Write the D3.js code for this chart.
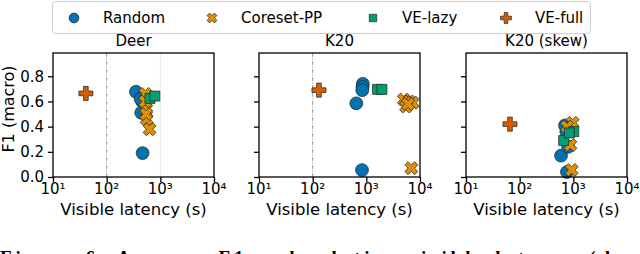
<!DOCTYPE html>
<html>
<head>
<meta charset="utf-8">
<script src="https://cdn.jsdelivr.net/npm/d3@7"></script>
<style>
  body { margin: 0; background: #fff; }
  svg { display: block; font-family: "DejaVu Sans", sans-serif; }
</style>
</head>
<body>
<svg id="chart" width="640" height="254"></svg>
<script>
// panels and methods
const panels = ["Deer", "K20", "K20 (skew)"];
const methods = ["Random", "Coreset-PP", "VE-lazy", "VE-full"];
const colors = ["#0173B2", "#DE8F05", "#029E73", "#D55E00"];
const yTicks = [0, 0.2, 0.4, 0.6, 0.8];
const xTicks = [1, 2, 3, 4]; // powers of ten

// [latency s, F1] per panel, per method
const deerRandom = [[351, 0.677], [460, 0.60], [440, 0.51], [467, 0.19], [430, 0.62]];
const deerCoreset = [[525, 0.66], [545, 0.54], [555, 0.46], [545, 0.50], [630, 0.38], [520, 0.60]];
const deerLazy = [[640, 0.624], [790, 0.643]];
const deerFull = [[41, 0.664]];

const k20Random = [[860, 0.74], [850, 0.715], [840, 0.69], [650, 0.585], [830, 0.055]];
const k20Coreset = [[5000, 0.615], [6300, 0.60], [7300, 0.59], [5500, 0.56], [6000, 0.58], [6900, 0.07]];
const k20Lazy = [[1620, 0.696], [1950, 0.696]];
const k20Full = [[131, 0.69]];

const skewRandom = [[590, 0.17], [760, 0.04], [740, 0.36], [800, 0.24], [700, 0.41]];
const skewCoreset = [[970, 0.43], [880, 0.254], [930, 0.056], [760, 0.40]];
const skewLazy = [[1020, 0.36], [660, 0.29], [840, 0.35]];
const skewFull = [[66, 0.42]];

const panelData = [
  [deerRandom, deerCoreset, deerLazy, deerFull],
  [k20Random, k20Coreset, k20Lazy, k20Full],
  [skewRandom, skewCoreset, skewLazy, skewFull]
];

const svg = d3.select("#chart");
const panelLeft = [53, 259, 466];
const panelW = 161;
const topY = 53, bottomY = 177;

const supers = {"1": "\u00B9", "2": "\u00B2", "3": "\u00B3", "4": "\u2074"};

// marker shapes
const circle = d3.symbol().type(d3.symbolCircle).size(130)();
const xMark = d3.symbol().type(d3.symbolCross).size(105)();
const square = d3.symbol().type(d3.symbolSquare).size(100)();
const plus = d3.symbol().type(d3.symbolCross).size(110)();

function markerPath(m) {
  return [circle, xMark, square, plus][m];
}

panels.forEach(function(name, p) {
  const x0 = panelLeft[p];
  const xScale = d3.scaleLog().domain([10, 10000]).range([x0, x0 + panelW]);
  const yScale = d3.scaleLinear().domain([0, 0.985]).range([bottomY, topY]);
  const g = svg.append("g").attr("class", "panel" + p);

  // reference lines
  if (p < 2) {
    g.append("line")
      .attr("x1", xScale(100)).attr("x2", xScale(100))
      .attr("y1", topY).attr("y2", bottomY)
      .attr("stroke", "#999").attr("stroke-width", 1)
      .attr("stroke-dasharray", "4,1.5,1,1.5");
  }
  if (p == 0) {
    g.append("line")
      .attr("x1", xScale(1000)).attr("x2", xScale(1000))
      .attr("y1", topY).attr("y2", bottomY)
      .attr("stroke", "#e6e6e6").attr("stroke-width", 1);
  }

  // points
  panelData[p].forEach(function(series, m) {
    g.selectAll(".m" + m).data(series).enter()
      .append("path")
      .attr("class", "m" + m)
      .attr("d", markerPath(m))
      .attr("transform", function(d) {
        let t = "translate(" + xScale(d[0]) + "," + yScale(d[1]) + ")";
        if (m == 1) t += " rotate(45)";
        return t;
      })
      .attr("fill", colors[m])
      .attr("stroke", "#222")
      .attr("stroke-width", 0.7);
  });

  // frame
  g.append("rect")
    .attr("x", x0).attr("y", topY)
    .attr("width", panelW).attr("height", bottomY - topY)
    .attr("fill", "none").attr("stroke", "#000").attr("stroke-width", 1.3);

  // x axis
  const xAxis = d3.axisBottom(xScale).tickValues(xTicks.map(function(e) { return Math.pow(10, e); }))
    .tickSize(5).tickPadding(3).tickFormat("");
  const ax = g.append("g").attr("transform", "translate(0," + bottomY + ")").call(xAxis);
  ax.select(".domain").remove();
  ax.selectAll("line").attr("stroke-width", 1.3);
  xTicks.forEach(function(e) {
    g.append("text")
      .attr("x", xScale(Math.pow(10, e)))
      .attr("y", 194)
      .attr("text-anchor", "middle")
      .attr("font-size", 15)
      .attr("fill", "#000")
      .text("10" + supers[e]);
  });

  // y axis
  const yAxis = d3.axisLeft(yScale).tickValues(yTicks).tickSize(5).tickPadding(4)
    .tickFormat(p == 0 ? d3.format(".1f") : "");
  const ay = g.append("g").attr("transform", "translate(" + x0 + ",0)").call(yAxis);
  ay.select(".domain").remove();
  ay.selectAll("line").attr("stroke-width", 1.3);
  ay.selectAll("text").attr("font-size", 15).attr("font-family", "DejaVu Sans").attr("fill", "#000");

  // title and x label
  g.append("text")
    .attr("x", x0 + panelW / 2).attr("y", 46)
    .attr("text-anchor", "middle").attr("font-size", 15)
    .text(name);
  g.append("text")
    .attr("x", x0 + panelW / 2).attr("y", 215)
    .attr("text-anchor", "middle").attr("font-size", 16.5)
    .text("Visible latency (s)");
});

// y label
svg.append("text")
  .attr("transform", "translate(14," + 109 + ") rotate(-90)")
  .attr("text-anchor", "middle").attr("font-size", 16)
  .text("F1 (macro)");

// legend
const legend = svg.append("g").attr("class", "legend");
legend.append("rect")
  .attr("x", 52.5).attr("y", 1.5).attr("width", 538).attr("height", 32)
  .attr("rx", 3).attr("fill", "#fff").attr("stroke", "#ccc").attr("stroke-width", 1);
const legendX = [74, 212, 373, 506];
methods.forEach(function(name, m) {
  const sizes = [75, 60, 55, 65];
  const sym = d3.symbol().type(m == 0 ? d3.symbolCircle : (m == 2 ? d3.symbolSquare : d3.symbolCross)).size(sizes[m])();
  legend.append("path")
    .attr("d", sym)
    .attr("transform", "translate(" + legendX[m] + ",18)" + (m == 1 ? " rotate(45)" : ""))
    .attr("fill", colors[m]).attr("stroke", "#222").attr("stroke-width", 0.7);
  legend.append("text")
    .attr("x", legendX[m] + 29).attr("y", 23)
    .attr("font-size", 15)
    .text(name);
});

// caption (cut by the page edge, as in the source figure)
svg.append("text")
  .attr("x", 0).attr("y", 264)
  .attr("font-family", "Liberation Serif, DejaVu Serif, serif")
  .attr("font-size", 19)
  .attr("font-weight", "bold")
  .attr("textLength", 610)
  .attr("lengthAdjust", "spacing")
  .text("Figure 6: Average F1 and relative visible latency (d");
</script>
</body>
</html>
